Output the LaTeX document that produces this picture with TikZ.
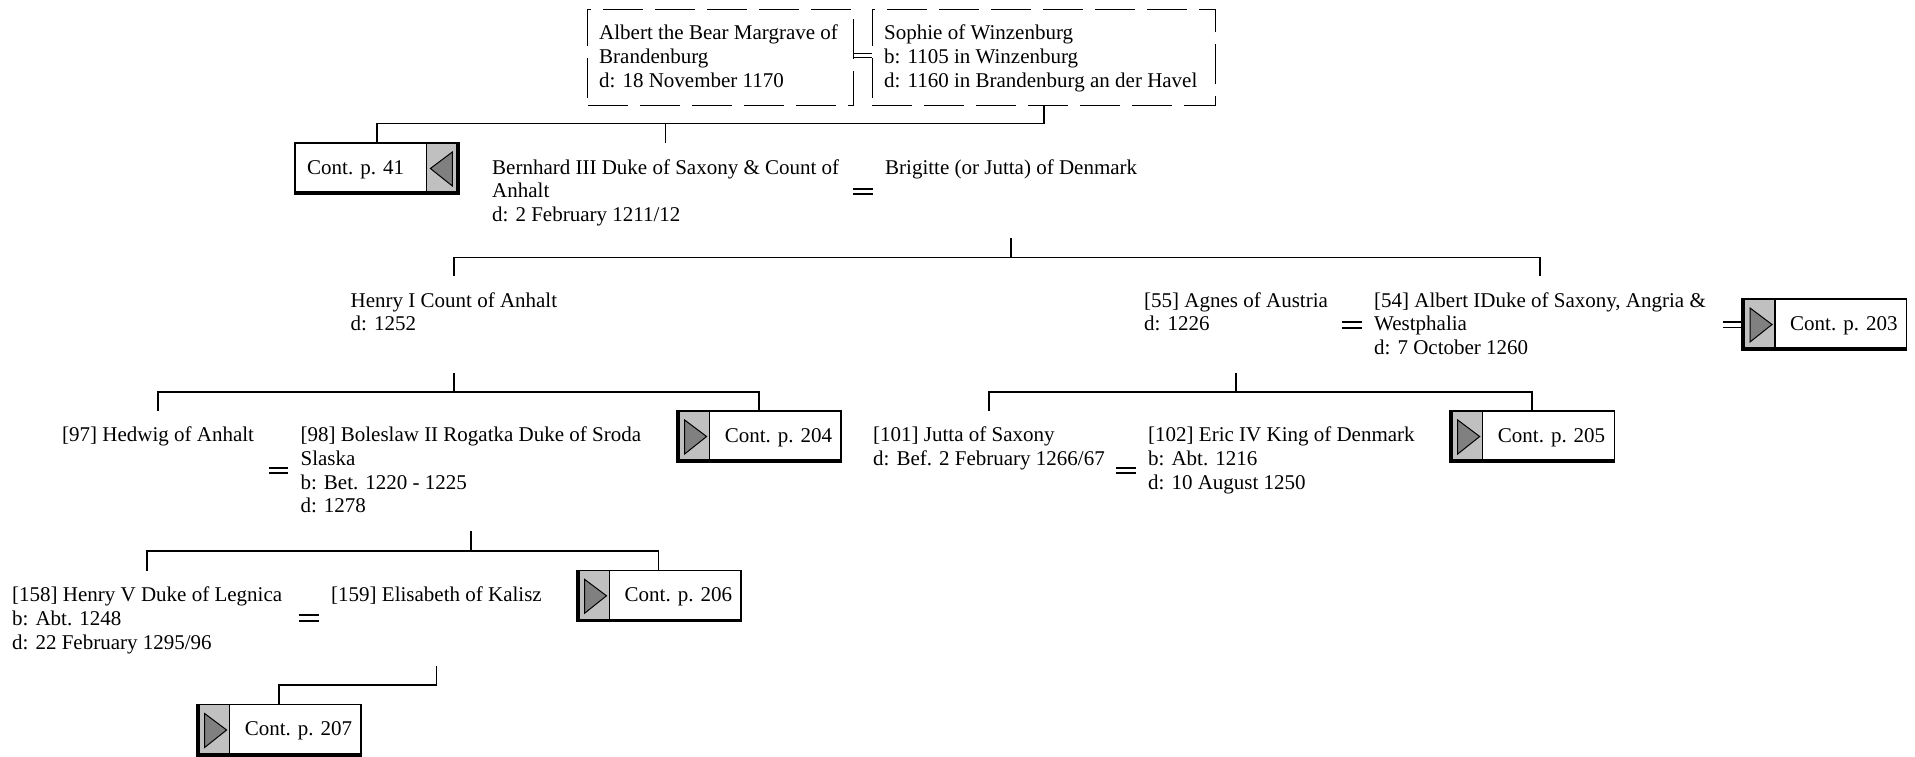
\documentclass[tikz,border=0pt]{standalone}
\usepackage{fontspec}
\setmainfont{Liberation Serif}
\usetikzlibrary{calc}
\newcommand\fixht{\rule{0pt}{15pt}}
\newcommand\nodefont{\fontsize{21}{23.7}\selectfont}
\definecolor{graypart}{HTML}{C0C0C0}
\definecolor{trigray}{HTML}{808080}
\tikzset{
  person/.style={align=left, inner xsep=0pt, inner ysep=16pt, anchor=north west, font=\nodefont},
  tree/.style={line width=1.5pt},
  eqline/.style={line width=1.9pt},
  dbox/.style={draw=black, line width=1pt, dash pattern=on 40pt off 12pt, inner sep=0pt, anchor=north west},
  contbox/.style={fill=white, minimum width=164pt, minimum height=51pt, inner sep=0pt, anchor=north west},
  conttext/.style={anchor=base west, inner sep=0pt, font=\nodefont},
  tri/.style={fill=trigray, draw=black, line width=1pt, line join=miter},
}
% right-pointing continuation box (gray part on the left)
\newcommand\contR[4]{%
  \node[contbox] (#1) at (#2,#3) {};
  \fill[graypart] (#1.north west) rectangle ($(#1.south west)+(33,0)$);
  \draw[line width=1.2pt] ($(#1.north west)+(33,0)$) -- ($(#1.south west)+(33,0)$);
  \filldraw[tri] ($(#1.north west)+(8,9)$) -- ($(#1.north west)+(30,25.5)$) -- ($(#1.north west)+(8,43)$) -- cycle;
  \draw[line width=1.2pt] (#1.north west) rectangle (#1.south east);
  \draw[line width=3pt] ($(#1.north west)+(1.5,0)$) -- ($(#1.south west)+(1.5,-1.5)$) -- ($(#1.south east)+(0.6,-1.5)$);
  \node[conttext] (#1-t) at ($(#1.north west)+(48,31)$) {#4};
}
% left-pointing continuation box (gray part on the right)
\newcommand\contL[4]{%
  \node[contbox] (#1) at (#2,#3) {};
  \fill[graypart] ($(#1.north east)+(-33,0)$) rectangle (#1.south east);
  \draw[line width=1.2pt] ($(#1.north east)+(-33,0)$) -- ($(#1.south east)+(-33,0)$);
  \filldraw[tri] ($(#1.north east)+(-7,9)$) -- ($(#1.north east)+(-29,25.5)$) -- ($(#1.north east)+(-7,43)$) -- cycle;
  \draw[line width=1.2pt] (#1.north west) rectangle (#1.south east);
  \draw[line width=3pt] ($(#1.north east)+(-1.5,0)$) -- ($(#1.south east)+(-1.5,-1.5)$) -- ($(#1.south west)+(-0.6,-1.5)$);
  \node[conttext] (#1-t) at ($(#1.north west)+(12,31)$) {#4};
}
% marriage sign placed before node #1, centred #2 below its north edge
\newcommand\marry[2]{%
  \draw[eqline] ($(#1.north west)+(-31.6,#2-2.6)$) -- ++(19.6,0);
  \draw[eqline] ($(#1.north west)+(-31.6,#2+2.6)$) -- ++(19.6,0);
}
\begin{document}
\begin{tikzpicture}[x=1pt,y=-1pt]
\useasboundingbox (0,0) rectangle (1915,756);

% top couple (dashed boxes)
\node[dbox, minimum width=265.7pt, minimum height=96pt] (albertbox) at (587,8.5) {};
\node[dbox, minimum width=343.3pt, minimum height=96pt] (sophiebox) at (871.7,8.5) {};
\node[person] (alberttxt) at (599,8.7) {\fixht Albert the Bear Margrave of\\Brandenburg\\d: 18 November 1170};
\node[person] (sophietxt) at (884,8.7) {\fixht Sophie of Winzenburg\\b: 1105 in Winzenburg\\d: 1160 in Brandenburg an der Havel};
\draw[line width=1pt] ($(albertbox.north east)+(0,45)$) -- ($(sophiebox.north west)+(0,45)$);
\draw[line width=1pt] ($(albertbox.north east)+(0,49)$) -- ($(sophiebox.north west)+(0,49)$);

% persons
\node[person] (bernhard) at (492,143) {\fixht Bernhard III Duke of Saxony \& Count of\\Anhalt\\d: 2 February 1211/12};
\node[person] (brigitte) at (885,143) {\fixht Brigitte (or Jutta) of Denmark};
\node[person] (henry1) at (350.5,276) {\fixht Henry I Count of Anhalt\\d: 1252};
\node[person] (agnes) at (1144,276) {\fixht [55] Agnes of Austria\\d: 1226};
\node[person] (albert1) at (1374,276) {\fixht [54] Albert IDuke of Saxony, Angria \&\\Westphalia\\d: 7 October 1260};
\node[person] (hedwig) at (62,410.5) {\fixht [97] Hedwig of Anhalt};
\node[person] (boleslaw) at (300.4,410.5) {\fixht [98] Boleslaw II Rogatka Duke of Sroda\\Slaska\\b: Bet. 1220 - 1225\\d: 1278};
\node[person] (jutta) at (873,410.5) {\fixht [101] Jutta of Saxony\\d: Bef. 2 February 1266/67};
\node[person] (eric) at (1148,410.5) {\fixht [102] Eric IV King of Denmark\\b: Abt. 1216\\d: 10 August 1250};
\node[person] (henry5) at (12,570.5) {\fixht [158] Henry V Duke of Legnica\\b: Abt. 1248\\d: 22 February 1295/96};
\node[person] (elisabeth) at (331,570.5) {\fixht [159] Elisabeth of Kalisz};

% level coordinates
\coordinate (y2) at (0,238);
\coordinate (y3) at (0,372.5);
\coordinate (y4) at (0,531);
\coordinate (y5) at (0,665.5);

% continuation boxes
\contL{cont41}{295}{143}{Cont. p. 41}
\contR{cont203}{1742}{299}{Cont. p. 203}
\contR{cont204}{676.6}{411}{Cont. p. 204}
\contR{cont205}{1449.7}{411}{Cont. p. 205}
\contR{cont206}{576.5}{570.3}{Cont. p. 206}
\contR{cont207}{196.6}{704.5}{Cont. p. 207}

% family connectors
\draw[tree] (sophiebox.south) -- ++(0,18) coordinate (h1) -| (cont41.north);
\draw[tree] (h1) -| (bernhard.north);
\draw[tree] (brigitte.north |- y2) -- ++(0,19.7) coordinate (h2) -| (henry1.north);
\draw[tree] (h2) -| (albert1.north);
\draw[tree] (henry1.north |- y3) -- ++(0,19.5) coordinate (h3) -| (hedwig.north);
\draw[tree] (h3) -| (cont204.north);
\draw[tree] (agnes.north |- y3) -- ++(0,19.5) coordinate (h4) -| (jutta.north);
\draw[tree] (h4) -| (cont205.north);
\draw[tree] (boleslaw.north |- y4) -- ++(0,20) coordinate (h5) -| (henry5.north);
\draw[tree] (h5) -| (cont206.north);
\draw[tree] (elisabeth.north |- y5) -- ++(0,19.5) -| (cont207.north);

% marriages
\marry{brigitte}{48.5}
\marry{albert1}{49}
\marry{boleslaw}{60}
\marry{eric}{60}
\marry{elisabeth}{47.5}
\draw[eqline] ($(cont203.west)+(-19,-2.8)$) -- ++(19,0);
\draw[eqline] ($(cont203.west)+(-19,2.8)$) -- ++(19,0);
\end{tikzpicture}
\end{document}
